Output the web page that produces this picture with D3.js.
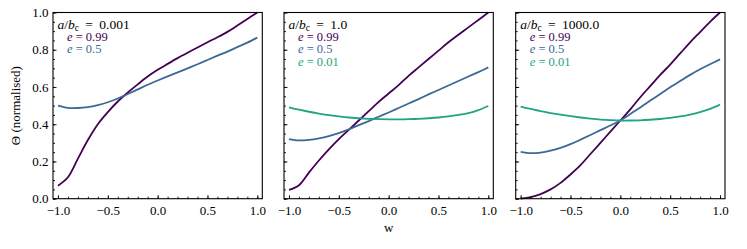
<!DOCTYPE html>
<html><head><meta charset="utf-8">
<script src="https://cdn.jsdelivr.net/npm/d3@7"></script>
<style>body{margin:0;background:#fff}svg{display:block}svg text{font-family:"Liberation Serif","DejaVu Serif",serif !important}</style>
</head><body><svg id="c" width="747" height="249" style="font-family:'Liberation Serif','DejaVu Serif',serif"></svg>
<script>
const wGrid = [-1,-0.9,-0.8,-0.7,-0.6,-0.5,-0.4,-0.3,-0.2,-0.1,0,0.1,0.2,0.3,0.4,0.5,0.6,0.7,0.8,0.9,1];
const ratioLabels = ["0.001","1.0","1000.0"];
const eLabels = ["0.99","0.5","0.01"];
const seriesColors = ["#440154","#3b6996","#22a383"];
// panel 1: a/b_c = 0.001
const p1_e099 = [0.07,0.115,0.215,0.315,0.40,0.465,0.522,0.57,0.614,0.656,0.692,0.724,0.755,0.784,0.812,0.84,0.867,0.896,0.93,0.965,1.0];
const p1_e05  = [0.50,0.488,0.487,0.492,0.503,0.518,0.538,0.562,0.587,0.612,0.635,0.657,0.678,0.70,0.722,0.745,0.768,0.79,0.814,0.838,0.865];
// panel 2: a/b_c = 1.0
const p2_e099 = [0.047,0.072,0.14,0.205,0.265,0.32,0.37,0.42,0.47,0.52,0.565,0.61,0.66,0.705,0.75,0.795,0.84,0.88,0.92,0.96,1.0];
const p2_e05  = [0.32,0.313,0.316,0.324,0.336,0.352,0.372,0.395,0.417,0.44,0.463,0.487,0.511,0.535,0.56,0.584,0.608,0.632,0.656,0.68,0.705];
const p2_e001 = [0.49,0.478,0.467,0.457,0.449,0.442,0.436,0.432,0.429,0.427,0.426,0.426,0.427,0.429,0.432,0.436,0.442,0.45,0.46,0.476,0.498];
// panel 3: a/b_c = 1000.0
const p3_e099 = [0.0,0.008,0.025,0.05,0.085,0.13,0.18,0.24,0.30,0.36,0.42,0.48,0.545,0.605,0.665,0.72,0.78,0.84,0.895,0.95,1.0];
const p3_e05  = [0.252,0.245,0.248,0.258,0.273,0.293,0.317,0.342,0.368,0.393,0.42,0.455,0.49,0.527,0.562,0.598,0.632,0.665,0.695,0.722,0.748];
const p3_e001 = [0.494,0.482,0.47,0.46,0.451,0.443,0.436,0.43,0.425,0.422,0.42,0.42,0.421,0.424,0.428,0.434,0.442,0.452,0.465,0.482,0.505];
const xTicks = [-1,-0.5,0,0.5,1];
const xMinor = d3.range(-10,11).map(d=>d/10);
const yTicks = [0,0.2,0.4,0.6,0.8,1.0];
const yMinor = d3.range(0,21).map(d=>d/20);

const panels = [
  {ratio: ratioLabels[0], series: [p1_e099, p1_e05]},
  {ratio: ratioLabels[1], series: [p2_e099, p2_e05, p2_e001]},
  {ratio: ratioLabels[2], series: [p3_e099, p3_e05, p3_e001]}
];
const FONT = "'Liberation Serif','DejaVu Serif',serif";
const lefts = [53, 284, 515.7];
const pw = 209.3, plotTop = 12.5, plotBottom = 198.7;
const svg = d3.select("#c");
const y = d3.scaleLinear().domain([0,1]).range([plotBottom, plotTop]);

panels.forEach((p, i) => {
  const x = d3.scaleLinear().domain([-1.05,1.05]).range([lefts[i], lefts[i]+pw]);
  const g = svg.append("g");
  const line = d3.line().x((d,k)=>x(wGrid[k])).y(d=>y(d)).curve(d3.curveCatmullRom.alpha(0.5));
  p.series.forEach((s, j) => {
    g.append("path").attr("d", line(s)).attr("fill","none")
      .attr("stroke", seriesColors[j]).attr("stroke-width", 1.8).attr("stroke-linecap","butt");
  });
  const ax = g.append("g").attr("transform",`translate(0,${plotBottom})`)
    .call(d3.axisBottom(x).tickValues(xTicks).tickSize(-3.5).tickSizeOuter(0).tickPadding(6)
      .tickFormat(d => d3.format(".1f")(d).replace("-","\u2212")));
  const axm = g.append("g").attr("transform",`translate(0,${plotBottom})`)
    .call(d3.axisBottom(x).tickValues(xMinor).tickSize(-2).tickSizeOuter(0).tickFormat(""));
  const ay = g.append("g").attr("transform",`translate(${lefts[i]},0)`)
    .call(d3.axisLeft(y).tickValues(yTicks).tickSize(-3.5).tickSizeOuter(0).tickPadding(4.5)
      .tickFormat(i===0 ? d3.format(".1f") : ""));
  const aym = g.append("g").attr("transform",`translate(${lefts[i]},0)`)
    .call(d3.axisLeft(y).tickValues(yMinor).tickSize(-2).tickSizeOuter(0).tickFormat(""));
  [ax,axm,ay,aym].forEach(a => {
    a.attr("font-family", FONT).attr("font-size", 13);
    a.select(".domain").remove();
    a.selectAll("line").attr("stroke","#000").attr("stroke-width",0.9);
    a.selectAll("text").attr("fill","#000");
  });
  ax.selectAll("text").attr("dy", null).attr("y", 16);
  g.append("rect").attr("x", lefts[i]).attr("y", plotTop).attr("width", pw).attr("height", plotBottom-plotTop)
    .attr("fill","none").attr("stroke","#000").attr("stroke-width",1.1);
  const tx = lefts[i] + 4.5;
  const t0 = g.append("text").attr("x", tx).attr("y", 28.5).attr("font-size", 13.5).attr("font-family", FONT).attr("fill","#000");
  t0.append("tspan").attr("font-style","italic").text("a");
  t0.append("tspan").text("/");
  t0.append("tspan").attr("font-style","italic").text("b");
  t0.append("tspan").attr("font-size", 9.5).attr("dy", 2.5).text("c");
  t0.append("tspan").attr("dy", -2.5).attr("dx", 3).text(" = ");
  t0.append("tspan").attr("dx", 3).text(p.ratio);
  p.series.forEach((s, j) => {
    const t = g.append("text").attr("x", tx + 9.5).attr("y", 41 + 12.3*j)
      .attr("font-size", 12.5).attr("font-family", FONT).attr("fill", seriesColors[j]);
    t.append("tspan").attr("font-style","italic").text("e");
    t.append("tspan").text(" = " + eLabels[j]);
  });
});
svg.append("text").attr("x", lefts[1] + pw/2).attr("y", 232).attr("text-anchor","middle")
  .attr("font-family", FONT).attr("font-size", 13).text("w");
svg.append("text").attr("transform", `translate(20,${(plotTop+plotBottom)/2}) rotate(-90)`)
  .attr("text-anchor","middle").attr("font-family", FONT).attr("font-size", 13).text("\u0398 (normalised)");
</script></body></html>
